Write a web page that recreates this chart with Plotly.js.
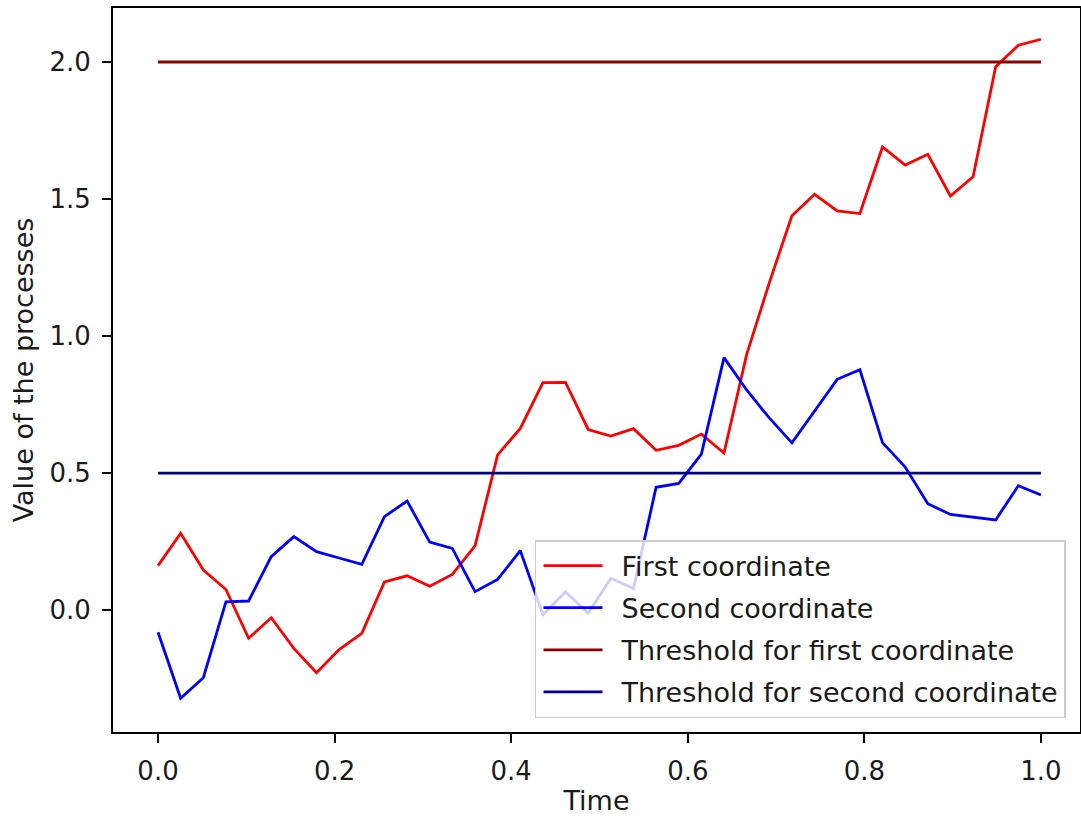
<!DOCTYPE html>
<html>
<head>
<meta charset="utf-8">
<script src="https://cdn.plot.ly/plotly-3.0.1.min.js"></script>
<style>
  html, body { margin: 0; padding: 0; background: #ffffff; }
  #chart { width: 1081px; height: 816px; }
</style>
</head>
<body>
<div id="chart"></div>
<script>
// Sample times (40 steps on [0, 1])
const time = [0.0, 0.0256, 0.0513, 0.0769, 0.1026, 0.1282, 0.1538, 0.1795, 0.2051, 0.2308,
  0.2564, 0.2821, 0.3077, 0.3333, 0.3590, 0.3846, 0.4103, 0.4359, 0.4615, 0.4872,
  0.5128, 0.5385, 0.5641, 0.5897, 0.6154, 0.6410, 0.6667, 0.6923, 0.7179, 0.7436,
  0.7692, 0.7949, 0.8205, 0.8462, 0.8718, 0.8974, 0.9231, 0.9487, 0.9744, 1.0];

// First coordinate of the process
const firstCoordinate = [0.162, 0.280, 0.146, 0.075, -0.103, -0.028, -0.140, -0.229, -0.144, -0.085,
  0.103, 0.125, 0.087, 0.130, 0.234, 0.566, 0.663, 0.830, 0.831, 0.659,
  0.635, 0.662, 0.583, 0.601, 0.642, 0.573, 0.933, 1.194, 1.439, 1.517,
  1.457, 1.447, 1.690, 1.624, 1.663, 1.511, 1.581, 1.983, 2.061, 2.083];

// Second coordinate of the process
const secondCoordinate = [-0.081, -0.322, -0.247, 0.030, 0.033, 0.195, 0.268, 0.213, 0.190, 0.167,
  0.341, 0.398, 0.248, 0.225, 0.067, 0.112, 0.217, -0.018, 0.067, -0.012,
  0.116, 0.079, 0.448, 0.462, 0.569, 0.921, 0.803, 0.701, 0.610, 0.727,
  0.842, 0.877, 0.611, 0.522, 0.388, 0.349, 0.340, 0.329, 0.454, 0.420];

// Threshold levels
const thresholdFirst = 2.0;
const thresholdSecond = 0.5;

const seriesNames = [
  'First coordinate',
  'Second coordinate',
  'Threshold for first coordinate',
  'Threshold for second coordinate'
];

const tickValsX = [0.0, 0.2, 0.4, 0.6, 0.8, 1.0];
const tickTextX = ['0.0', '0.2', '0.4', '0.6', '0.8', '1.0'];
const tickValsY = [0.0, 0.5, 1.0, 1.5, 2.0];
const tickTextY = ['0.0', '0.5', '1.0', '1.5', '2.0'];

const tStart = time[0];
const tEnd = time[time.length - 1];
const LW = 2.8;

const traces = [
  { x: time, y: firstCoordinate, name: seriesNames[0], legendgroup: 'a',
    mode: 'lines', line: { color: '#ff0000', width: LW } },
  { x: time, y: secondCoordinate, name: seriesNames[1], legendgroup: 'b',
    mode: 'lines', line: { color: '#0000ff', width: LW } },
  { x: [tStart, tEnd], y: [thresholdFirst, thresholdFirst], name: seriesNames[2], legendgroup: 'c',
    mode: 'lines', line: { color: '#8b0000', width: LW } },
  { x: [tStart, tEnd], y: [thresholdSecond, thresholdSecond], name: seriesNames[3], legendgroup: 'd',
    mode: 'lines', line: { color: '#00008b', width: LW } }
];

const textColor = '#1a1a1a';
const axisCommon = {
  showgrid: false,
  zeroline: false,
  showline: true,
  mirror: true,
  linecolor: '#000000',
  linewidth: 2,
  ticks: 'outside',
  ticklen: 9,
  tickwidth: 2,
  tickcolor: '#000000',
  tickfont: { family: 'DejaVu Sans', size: 26, color: textColor },
  ticklabelstandoff: 6,
  automargin: false
};

const layout = {
  width: 1081,
  height: 816,
  margin: { l: 113, r: 1, t: 8, b: 84, pad: 0 },
  paper_bgcolor: '#ffffff',
  plot_bgcolor: '#ffffff',
  font: { family: 'DejaVu Sans', size: 27, color: textColor },
  showlegend: true,
  xaxis: Object.assign({}, axisCommon, {
    range: [-0.051, 1.0442],
    tickvals: tickValsX,
    ticktext: tickTextX,
    title: { text: 'Time', font: { family: 'DejaVu Sans', size: 27, color: textColor }, standoff: 13 }
  }),
  yaxis: Object.assign({}, axisCommon, {
    range: [-0.445, 2.197],
    tickvals: tickValsY,
    ticktext: tickTextY,
    title: { text: 'Value of the processes', font: { family: 'DejaVu Sans', size: 27, color: textColor }, standoff: 8 }
  }),
  legend: {
    x: 0.4364,
    y: 0.0193,
    xanchor: 'left',
    yanchor: 'bottom',
    bgcolor: 'rgba(255,255,255,0.8)',
    bordercolor: '#cccccc',
    borderwidth: 1.5,
    font: { family: 'DejaVu Sans', size: 27, color: textColor },
    tracegroupgap: 4,
    itemwidth: 75,
    traceorder: 'grouped'
  }
};

Plotly.newPlot('chart', traces, layout, { staticPlot: true, displayModeBar: false }).then(function (gd) {
  // lengthen the legend line samples
  gd.querySelectorAll('.legend .legendlines path').forEach(function (p) {
    p.setAttribute('d', 'M7,0h59');
  });
});
</script>
</body>
</html>
